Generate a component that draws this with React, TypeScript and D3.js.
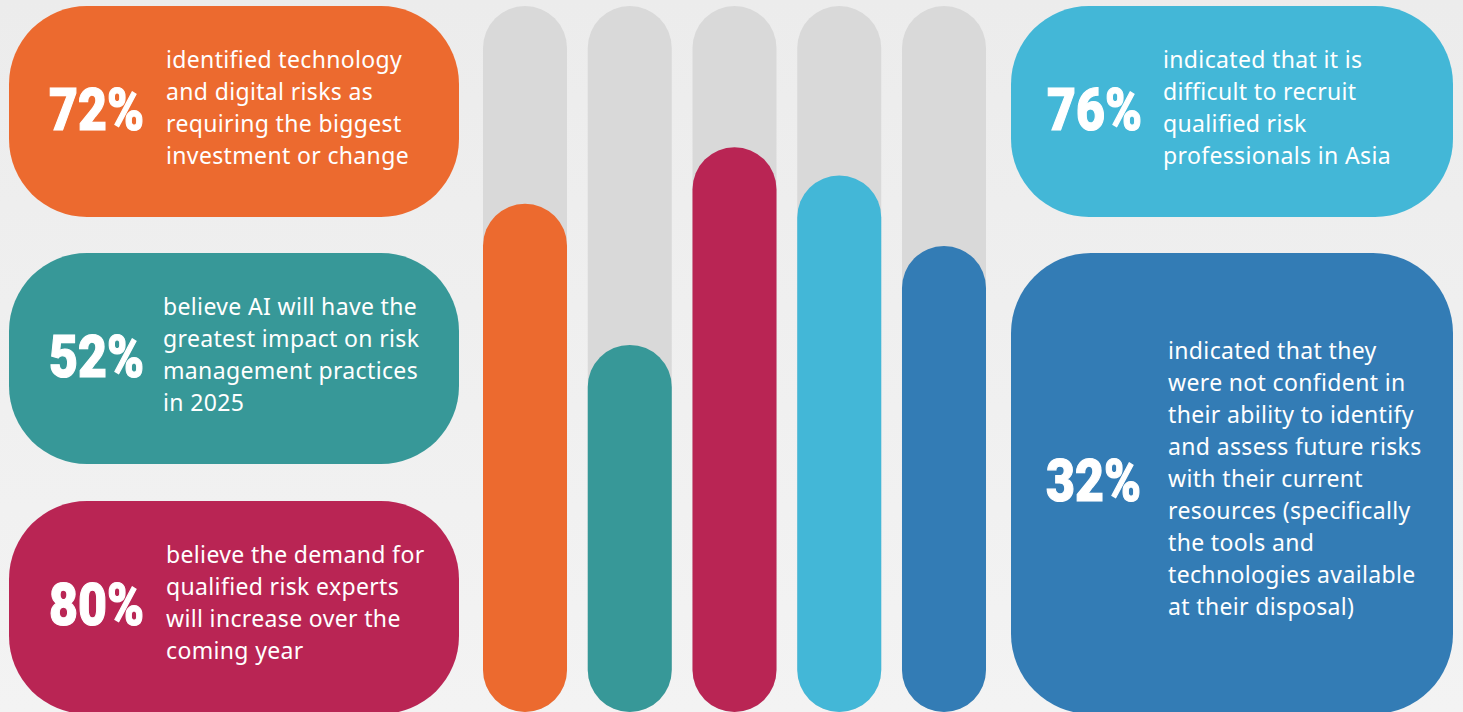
import React from "react";
import * as d3 from "d3";

// ---- data ----
const barValues = [72, 52, 80, 76, 66];
const barColors = ["#ec6a2f", "#379898", "#b92554", "#43b7d7", "#337cb5"];
const percentLabels = ["72%", "52%", "80%", "76%", "32%"];
const descriptions: string[][] = [
  ["identified technology", "and digital risks as", "requiring the biggest", "investment or change"],
  ["believe AI will have the", "greatest impact on risk", "management practices", "in 2025"],
  ["believe the demand for", "qualified risk experts", "will increase over the", "coming year"],
  ["indicated that it is", "difficult to recruit", "qualified risk", "professionals in Asia"],
  [
    "indicated that they",
    "were not confident in",
    "their ability to identify",
    "and assess future risks",
    "with their current",
    "resources (specifically",
    "the tools and",
    "technologies available",
    "at their disposal)",
  ],
];

const W = 1463;
const H = 712;

// card boxes (layout)
const cards = [
  { x: 9, y: 6, w: 450, h: 211, r: 78, px: 49, tx: 166 },
  { x: 9, y: 253, w: 450, h: 211, r: 78, px: 49, tx: 163 },
  { x: 9, y: 501, w: 450, h: 213, r: 78, px: 49, tx: 166 },
  { x: 1011, y: 6, w: 442, h: 211, r: 78, px: 1047, tx: 1163 },
  { x: 1011, y: 253, w: 442, h: 461, r: 80, px: 1046, tx: 1168 },
];

export default function App() {
  const x = d3
    .scaleBand<number>()
    .domain(d3.range(barValues.length))
    .range([483, 986])
    .paddingInner(0.198)
    .paddingOuter(0);
  const y = d3.scaleLinear().domain([0, 100]).range([712, 6]);
  const bw = x.bandwidth();

  return (
    <svg
      width={W}
      height={H}
      style={{ position: "absolute", left: 0, top: 0, display: "block" }}
    >
      <defs>
        <linearGradient id="bg" x1="0" y1="0" x2="0" y2="1">
          <stop offset="0" stopColor="#ececec" />
          <stop offset="1" stopColor="#f3f3f3" />
        </linearGradient>
      </defs>
      <rect x={0} y={0} width={W} height={H} fill="url(#bg)" />

      {/* bars */}
      {barValues.map((v, i) => (
        <g key={"bar" + i}>
          <rect
            x={x(i)}
            y={y(100)}
            width={bw}
            height={y(0) - y(100)}
            rx={bw / 2}
            fill="#d9d9d9"
          />
          <rect
            x={x(i)}
            y={y(v)}
            width={bw}
            height={y(0) - y(v)}
            rx={bw / 2}
            fill={barColors[i]}
          />
        </g>
      ))}

      {/* cards */}
      {cards.map((c, i) => {
        const cy = c.y + Math.min(c.h, 712 - c.y) / 2;
        const lines = descriptions[i];
        const n = lines.length;
        return (
          <g key={"card" + i}>
            <rect x={c.x} y={c.y} width={c.w} height={c.h} rx={c.r} fill={barColors[i]} />
            <text
              x={c.px}
              y={cy + 18}
              fill="#ffffff"
              stroke="#ffffff"
              strokeWidth={1.2}
              fontFamily="Roboto, sans-serif"
              fontWeight={900}
              fontSize={59}
              textLength={95}
              lengthAdjust="spacingAndGlyphs"
            >
              {percentLabels[i]}
            </text>
            {lines.map((ln, j) => (
              <text
                key={j}
                x={c.tx}
                y={cy + 4 + (j - (n - 1) / 2) * 32}
                fill="#ffffff"
                fontFamily="'Noto Sans', sans-serif"
                fontSize={23}
                letterSpacing={0.35}
              >
                {ln}
              </text>
            ))}
          </g>
        );
      })}
    </svg>
  );
}
